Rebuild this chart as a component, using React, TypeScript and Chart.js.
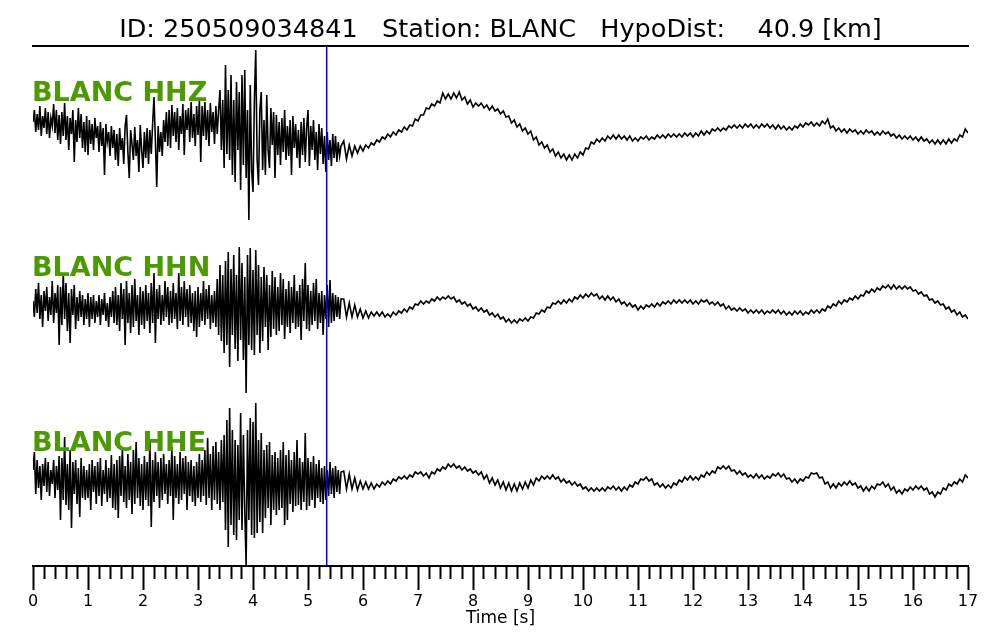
import React, { useEffect, useRef } from "react";
import { Chart, registerables } from "chart.js";

Chart.register(...registerables);

// ---------- text ----------
const TITLE = "ID: 250509034841   Station: BLANC   HypoDist:    40.9 [km]";
const X_LABEL = "Time [s]";
const TRACE_NAMES = ["BLANC HHZ", "BLANC HHN", "BLANC HHE"];

// ---------- time axis ----------
const X_MIN = 0;
const X_MAX = 17;
const MINOR_STEP = 0.2;
const ONSET_DT = 0.025; // sample spacing of the onset part (0 .. 5.6 s)
const CODA_START = 5.65; // first coda sample time
const CODA_DT = 0.05; // sample spacing of the coda part (5.65 .. 17 s)
const PICK_TIME = 5.34; // blue pick line

// ---------- amplitudes (relative units, positive up) ----------
// HHZ
const HHZ_ONSET = [
  8, 20, -2, 16, 0, 24, -6, 14, 2, 22, -4, 18, -8, 12, 4, 26, -3, 20, -10, 15,
  -14, 18, -6, 27, -10, 14, -20, 12, -4, 20, -32, 10, -12, 22, -8, 16, -18, 8, -22, 14,
  -25, 10, -14, 6, -20, 12, -8, 4, -22, 8, -16, 2, -45, 6, -12, -2, -26, 4, -18, 0,
  -30, -4, -36, 2, -20, -8, -34, 4, 15, -22, -48, 0, -14, -30, 3, -26, -10, -42, 5, -20,
  -38, -2, -28, 2, -34, 0, -24, 6, 33, -10, -57, 4, -22, -2, -26, 10, -12, 18, -16, 20,
  -18, 25, -6, 18, -12, 22, -20, 14, -4, 26, -25, 20, 0, 22, -12, 28, -8, 16, -16, 24,
  -5, 30, -32, 24, -6, 28, -10, 20, -16, 27, -2, 18, -14, 24, -4, 20, 40, -20, 30, -38,
  65, -24, 40, -30, 55, -45, 30, -52, 48, -20, 38, -60, 55, -35, 60, -48, 20, -90, 45, -40,
  -62, 30, 80, -30, -55, 20, 38, -40, 10, -45, 35, -20, -38, 22, -15, 18, -48, 15, -25, 8,
  -35, 12, -22, 20, -30, 4, -26, 10, -45, 14, -18, 6, -28, 0, -38, 8, -25, 12, -32, 2,
  20, -36, 4, -20, 10, -30, -2, -40, 6, -24, 2, -34, -6, -42, -2, -30, -10, -36, -4, -28,
  -6, -32, -12, -26, -16,
];
const HHZ_CODA = [
  -11, -29, -15, -26, -16, -23, -16, -21, -15, -18, -13, -15, -10, -12, -7, -9, -4, -7, -2, -5,
  0, -2, 3, 0, 5, 4, 11, 9, 15, 15, 22, 21, 26, 24, 29, 27, 37, 31, 36, 31,
  37, 32, 38, 30, 33, 26, 30, 23, 27, 24, 27, 22, 25, 20, 24, 19, 21, 16, 19, 13,
  14, 7, 10, 3, 6, -1, 2, -4, -1, -10, -7, -15, -12, -18, -15, -22, -19, -26, -22, -28,
  -24, -30, -25, -30, -24, -28, -22, -25, -18, -19, -12, -14, -9, -12, -8, -11, -6, -9, -5, -9,
  -5, -9, -6, -10, -6, -11, -8, -11, -7, -9, -6, -10, -7, -9, -5, -8, -5, -8, -4, -7,
  -4, -7, -4, -7, -3, -6, -3, -7, -3, -6, -1, -5, -1, -4, 1, -1, 2, -1, 2, 0,
  4, 2, 5, 2, 5, 2, 6, 3, 6, 2, 5, 2, 6, 3, 6, 2, 5, 1, 5, 1,
  4, 0, 3, 0, 4, 2, 6, 3, 7, 5, 8, 4, 7, 4, 9, 6, 11, 2, 4, -1,
  2, -2, 1, -3, 1, -2, 0, -4, -1, -4, 0, -3, -1, -5, -2, -5, -1, -4, -2, -6,
  -4, -8, -5, -9, -6, -9, -6, -10, -7, -11, -7, -11, -9, -13, -10, -14, -10, -14, -10, -14,
  -9, -13, -9, -11, -5, -7, 1, -3,
];
// HHN
const HHN_ONSET = [
  4, -12, 16, -8, 22, -14, 10, -22, 14, -6, 18, -16, 8, -10, 24, -18, 12, -8, 20, -40,
  18, -20, 32, -14, 22, -26, 12, -38, 16, -10, 20, -24, 8, -16, 14, -12, 10, -20, 6, -14,
  12, -22, 8, -14, 10, -18, 4, -12, 10, -20, 6, -10, 12, -16, 2, -22, 8, -12, 14, -18,
  18, -20, 10, -26, 22, -14, 16, -40, 24, -18, 12, -28, 20, -22, 26, -16, 10, -30, 18, -20,
  14, -24, 20, -16, 12, -28, 22, -18, 32, -38, 16, -14, 20, -20, 10, -16, 24, -12, 18, -20,
  14, -18, 22, -14, 12, -24, 32, -16, 18, -20, 24, -12, 16, -22, 20, -18, 12, -26, 14, -32,
  18, -22, 12, -16, 24, -20, 16, -14, 20, -24, 10, -18, 14, -22, 26, -30, 40, -36, 30, -48,
  44, -40, 53, -62, 36, -30, 50, -44, 30, -56, 58, -35, 42, -55, 28, -88, 50, -40, 57, -45,
  35, -50, 55, -30, 40, -48, 28, -36, 38, -22, 30, -45, 20, -32, 34, -24, 28, -30, 18, -26,
  32, -20, 26, -34, 16, -22, 24, -28, 18, -18, 30, -24, 14, -22, 20, -35, 26, -16, 42, -24,
  20, -26, 14, -20, 22, -16, 26, -24, 12, -18, 14, -30, 10, -14, 20, -22, 25, -18, 12, -16,
  10, -12, 8, -14, 6,
];
const HHN_CODA = [
  6, -12, 2, -12, 0, -12, -4, -13, -6, -13, -7, -11, -7, -11, -7, -12, -9, -12, -7, -10,
  -6, -8, -4, -7, -2, -4, 1, 0, 4, 1, 4, 2, 6, 4, 8, 5, 8, 6, 9, 6,
  8, 3, 5, 1, 3, -1, 1, -4, -2, -6, -3, -7, -5, -10, -8, -12, -9, -14, -12, -17,
  -14, -18, -15, -18, -14, -16, -13, -16, -12, -13, -8, -9, -5, -7, -2, -3, 2, 1, 4, 1,
  5, 2, 6, 3, 8, 6, 10, 7, 11, 8, 12, 9, 11, 6, 9, 5, 9, 5, 8, 3,
  6, 1, 3, -1, 2, -2, 0, -5, -1, -4, 0, -2, 1, -2, 2, -1, 3, 1, 4, 1,
  5, 2, 5, 2, 5, 2, 5, 1, 4, 1, 5, 3, 5, 1, 3, 0, 3, -1, 1, -4,
  -1, -5, -3, -6, -3, -6, -4, -8, -5, -8, -5, -8, -5, -9, -6, -8, -5, -8, -5, -9,
  -6, -10, -7, -10, -6, -9, -6, -10, -7, -9, -5, -8, -5, -8, -4, -6, -1, -3, 1, -1,
  4, 1, 5, 3, 7, 5, 9, 6, 10, 9, 14, 12, 16, 13, 17, 15, 19, 17, 20, 16,
  20, 16, 19, 16, 19, 16, 18, 14, 15, 11, 13, 9, 10, 5, 6, 2, 4, 0, 1, -4,
  -2, -7, -5, -10, -7, -12, -10, -14,
];
// HHE
const HHE_ONSET = [
  10, 28, -14, 20, -8, 14, -20, 16, -6, 22, -12, 18, -16, 10, -4, 20, -18, 14, -10, 24,
  -40, 22, -20, 43, -25, 16, -30, 30, -48, 18, -14, 20, -24, 12, -37, 22, -18, 14, -20, 10,
  -18, 16, -30, 20, -12, 14, -24, 18, -16, 22, -26, 10, -14, 20, -22, 12, -18, 25, -28, 16,
  -30, 20, -38, 24, -16, 33, -22, 14, -28, 26, -20, 18, -34, 30, -24, 38, -18, 22, -26, 16,
  -30, 24, -20, 18, -26, 40, -47, 20, -22, 28, -16, 18, -28, 22, -20, 26, -14, 16, -24, 20,
  -16, 33, -40, 24, -18, 16, -24, 28, -20, 22, -14, 24, -30, 18, -16, 20, -22, 14, -26, 18,
  -18, 26, -22, 20, -16, 30, -25, 42, -18, 26, -30, 34, -20, 38, -24, 28, -30, 40, -22, 45,
  -50, 60, -67, 72, -45, 50, -55, 40, -60, 35, -40, 67, -50, 45, -30, -85, 50, -40, 62, -55,
  58, -58, 77, -53, 40, -42, 47, -53, 30, -38, 35, -28, 38, -45, 25, -30, 28, -35, 22, -30,
  30, -28, 38, -45, 25, -40, 30, -24, 20, -32, 28, -26, 40, -25, 22, -30, 18, -22, 47, -30,
  22, -26, 18, -20, 24, -28, 16, -18, 20, -22, 12, -24, 14, -20, 10, -16, 18, -14, 12, -18,
  14, -12, 10, -14, 8,
];
const HHE_CODA = [
  9, -9, 6, -9, 2, -10, -1, -9, -2, -9, -3, -9, -4, -7, -2, -5, -1, -4, 1, -1,
  3, 1, 4, 1, 5, 3, 8, 6, 8, 4, 7, 2, 8, 6, 11, 9, 13, 11, 16, 13,
  16, 12, 14, 10, 13, 9, 11, 7, 9, 5, 8, 1, 5, -3, 2, -5, 0, -8, -2, -10,
  -3, -11, -4, -11, -3, -9, -2, -8, 0, -5, 2, -1, 4, 1, 4, 1, 5, 1, 3, -2,
  1, -3, -1, -5, -2, -6, -4, -9, -7, -11, -8, -11, -8, -11, -8, -11, -7, -9, -6, -10,
  -7, -11, -7, -10, -5, -7, -2, -4, 1, 0, 3, -1, 1, -5, -3, -7, -4, -8, -5, -8,
  -3, -5, 0, -2, 3, 0, 4, 0, 3, 0, 5, 3, 8, 5, 9, 7, 13, 11, 14, 11,
  14, 9, 10, 6, 9, 5, 7, 3, 5, 2, 6, 2, 5, 1, 4, 2, 6, 4, 7, 3,
  6, 1, 2, -2, 1, -3, 1, -1, 3, 2, 7, 6, 7, 2, 3, -4, -2, -8, -4, -8,
  -3, -6, -2, -5, -1, -5, -3, -8, -6, -11, -7, -11, -6, -9, -4, -5, -2, -7, -4, -10,
  -7, -13, -10, -14, -9, -11, -7, -10, -6, -9, -6, -10, -8, -14, -12, -17, -12, -14, -8, -10,
  -4, -6, -2, -4, 1, -2, 5, 2,
];

// ---------- layout / style ----------
const Y_MIN = 0;
const Y_MAX = 520;
const TRACE_BASES = [436, 261, 86]; // vertical offset of each trace
const LABEL_RISE = 29;
const FONT = "'DejaVu Sans', sans-serif";
const LABEL_COLOR = "#4a9a00";
const TRACE_COLOR = "#000000";
const PICK_COLOR = "#0000ff";

const isMajor = (v: number) => Math.abs(v - Math.round(v)) < 1e-6;

function toPoints(onset: number[], coda: number[], base: number) {
  const pts: { x: number; y: number }[] = [];
  onset.forEach((v, i) => pts.push({ x: +(i * ONSET_DT).toFixed(4), y: base + v }));
  coda.forEach((v, i) => pts.push({ x: +(CODA_START + i * CODA_DT).toFixed(4), y: base + v }));
  return pts;
}

const textPlugin = {
  id: "seisText",
  afterDatasetsDraw(chart: any) {
    const { ctx, chartArea, scales } = chart;
    ctx.save();
    ctx.fillStyle = LABEL_COLOR;
    ctx.font = `bold 27px ${FONT}`;
    ctx.textAlign = "left";
    ctx.textBaseline = "alphabetic";
    TRACE_NAMES.forEach((name, i) => {
      const y = scales.y.getPixelForValue(TRACE_BASES[i] + LABEL_RISE);
      ctx.fillText(name, chartArea.left - 1, y);
    });
    ctx.restore();
  },
  afterDraw(chart: any) {
    const { ctx, chartArea } = chart;
    ctx.save();
    ctx.fillStyle = "#000";
    ctx.font = `25.5px ${FONT}`;
    ctx.textAlign = "center";
    ctx.textBaseline = "alphabetic";
    ctx.fillText(TITLE, (chartArea.left + chartArea.right) / 2, 37);
    ctx.restore();
  },
};

export default function App() {
  const canvasRef = useRef<HTMLCanvasElement | null>(null);

  useEffect(() => {
    const canvas = canvasRef.current;
    if (!canvas) return;
    const traces = [
      toPoints(HHZ_ONSET, HHZ_CODA, TRACE_BASES[0]),
      toPoints(HHN_ONSET, HHN_CODA, TRACE_BASES[1]),
      toPoints(HHE_ONSET, HHE_CODA, TRACE_BASES[2]),
    ];
    const chart = new Chart(canvas, {
      type: "line",
      data: {
        datasets: [
          {
            label: "P pick",
            data: [
              { x: PICK_TIME, y: Y_MIN },
              { x: PICK_TIME, y: Y_MAX },
            ],
            borderColor: PICK_COLOR,
            borderWidth: 1.5,
            pointRadius: 0,
            order: 0,
          },
          ...traces.map((pts, i) => ({
            label: TRACE_NAMES[i],
            data: pts,
            borderColor: TRACE_COLOR,
            borderWidth: 1.6,
            pointRadius: 0,
            tension: 0,
            order: 1,
          })),
        ],
      },
      options: {
        animation: false,
        responsive: false,
        maintainAspectRatio: false,
        layout: { padding: { left: 33, right: 32, top: 46, bottom: 0 } },
        plugins: {
          legend: { display: false },
          tooltip: { enabled: false },
          title: { display: false },
        },
        scales: {
          x: {
            type: "linear",
            position: "bottom",
            min: X_MIN,
            max: X_MAX,
            afterFit: (s: any) => {
              s.height = 74;
            },
            border: { display: true, color: "#000", width: 2 },
            grid: {
              display: true,
              drawOnChartArea: false,
              drawTicks: true,
              tickLength: 24,
              tickWidth: 2,
              tickColor: "#000",
              tickBorderDash: (c: any) => (c.tick && !isMajor(c.tick.value) ? [12, 60] : []),
            },
            ticks: {
              stepSize: MINOR_STEP,
              autoSkip: false,
              maxRotation: 0,
              minRotation: 0,
              padding: 2,
              color: "#000",
              font: { family: FONT, size: 16 },
              callback: (v: any) => (isMajor(Number(v)) ? String(Math.round(Number(v))) : ""),
            },
            title: {
              display: true,
              text: X_LABEL,
              color: "#000",
              font: { family: FONT, size: 17 },
              padding: { top: 0, bottom: 11 },
            },
          },
          xTop: {
            type: "linear",
            axis: "x",
            position: "top",
            min: X_MIN,
            max: X_MAX,
            afterFit: (s: any) => {
              s.height = 0;
            },
            border: { display: true, color: "#000", width: 2 },
            grid: { display: true, drawOnChartArea: false, drawTicks: false },
            ticks: { display: false },
          },
          y: {
            type: "linear",
            min: Y_MIN,
            max: Y_MAX,
            display: false,
          },
        },
      } as any,
      plugins: [textPlugin],
    });
    return () => chart.destroy();
  }, []);

  return (
    <div style={{ position: "absolute", left: 0, top: 0, width: 1000, height: 640, background: "#fff" }}>
      <canvas ref={canvasRef} width={1000} height={640} style={{ display: "block" }} />
    </div>
  );
}
